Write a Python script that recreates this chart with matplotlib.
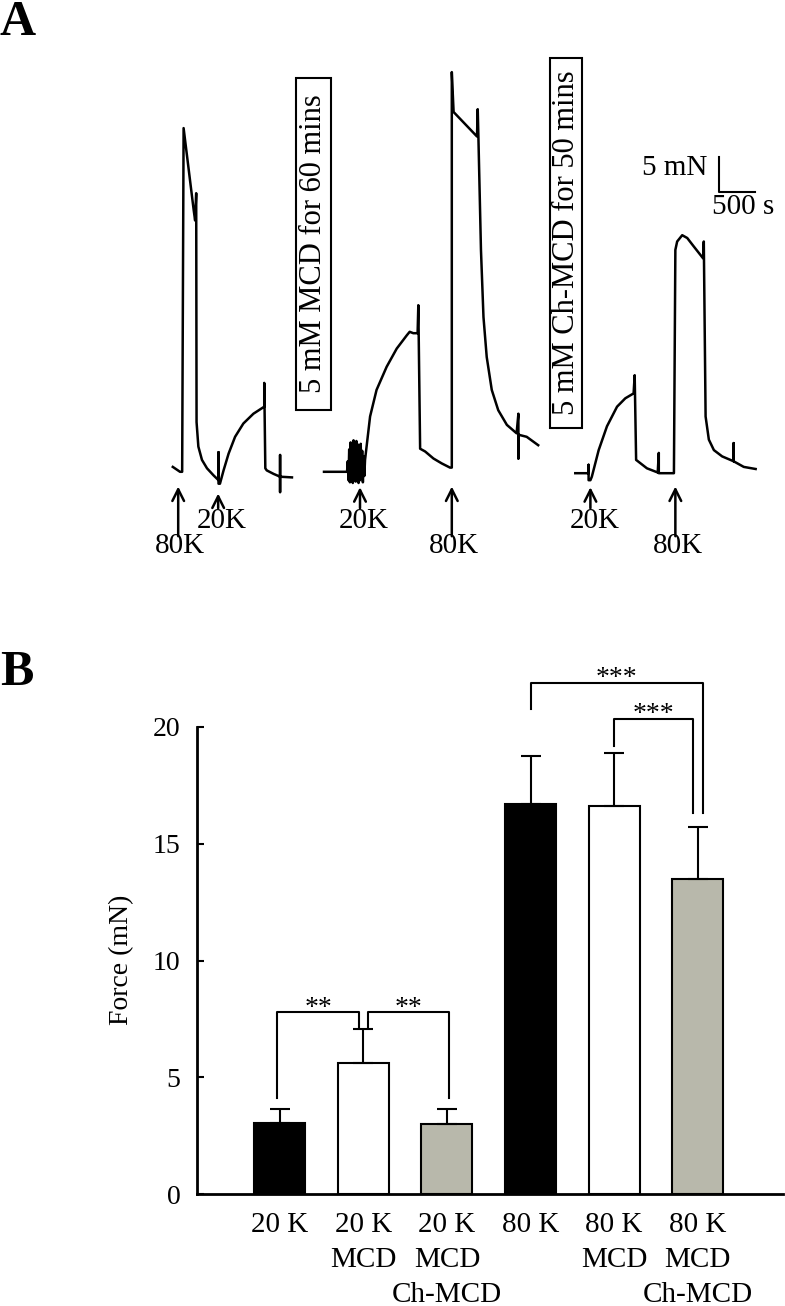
import matplotlib
matplotlib.use('Agg')
import matplotlib.pyplot as plt
from matplotlib.patches import Rectangle

plt.rcParams['font.family'] = ['Liberation Serif', 'DejaVu Serif']

# ---- panel A: force traces (time in s, force in mN above resting tone) ----
t1 = [0, 100, 130, 150, 290, 310, 325, 330, 355, 405, 475, 565, 635, 635, 635, 655,
      705, 775, 865, 980, 1120, 1270, 1270, 1285, 1305, 1400, 1490, 1490, 1490, 1490, 1655]
f1 = [0, -0.7, -0.7, 48.4, 36.7, 35.2, 39.1, 6.4, 2.9, 1.0, -0.2, -1.2, -1.9, 2.1, -2.4, -2.4,
      -0.5, 1.9, 4.3, 6.2, 7.6, 8.6, 12.0, -0.2, -0.5, -1.0, -1.4, 1.7, -3.6, -1.4, -1.5]

t2 = [0, 320, 330, 340, 350, 360, 370, 380, 390, 400, 410, 420, 430, 440, 450, 460, 470,
      480, 490, 500, 510, 520, 530, 540, 550, 560,
      570, 640, 730, 870, 1010, 1150, 1190, 1240, 1300, 1310, 1335, 1405, 1520, 1635, 1750,
      1775, 1775, 1800, 2125, 2135, 2145, 2180, 2215, 2260, 2330, 2420, 2540, 2675, 2700,
      2700, 2700, 2815, 2975]
f2 = [0, 0, 1.5, -1.2, 3.2, -1.5, 4.2, -0.8, 3.6, -1.6, 4.5, -1.0, 2.8, -1.4, 4.4, -1.3, 3.9,
      -1.6, 2.6, -1.2, 4.0, -0.9, 3.0, -1.5, 2.2, -0.6,
      1.7, 7.9, 11.7, 15.0, 17.6, 19.5, 20.0, 19.8, 19.8, 23.8, 3.3, 2.9, 1.9, 1.2, 0.6,
      0.6, 57.1, 51.4, 47.9, 51.8, 47.6, 31.7, 22.1, 16.4, 11.7, 8.8, 6.7, 5.5, 8.3,
      1.9, 5.3, 5.0, 3.8]

t3 = [0, 185, 185, 185, 210, 230, 325, 440, 580, 695, 810, 825, 845, 995, 1145, 1160, 1160,
      1370, 1390, 1415, 1485, 1555, 1645, 1775, 1785, 1810, 1855, 1925, 2040, 2200, 2200,
      2200, 2340, 2505]
f3 = [0, 0, 1.2, -1.0, -1.0, -0.5, 3.3, 6.7, 9.5, 10.7, 11.4, 14.0, 1.9, 0.7, 0.1, 2.9, 0,
      0, 31.9, 33.1, 34.0, 33.6, 32.4, 30.7, 33.1, 8.1, 4.8, 3.3, 2.4, 1.7, 4.3,
      1.7, 0.9, 0.6]

# stimulus arrows (time relative to each trace start)
stim_t = [[75, 630], [500, 1775], [210, 1390]]
stim_lbl = [['80K', '20K'], ['20K', '80K'], ['20K', '80K']]

box_txt = ['5 mM MCD for 60 mins', '5 mM Ch-MCD for 50 mins']

# ---- panel B: bar chart ----
groups = ['20 K', '20 K\nMCD', '20 K\nMCD\nCh-MCD', '80 K', '80 K\nMCD', '80 K\nMCD\nCh-MCD']
force = [3.05, 5.6, 3.0, 16.7, 16.6, 13.5]
sem = [0.6, 1.45, 0.65, 2.05, 2.3, 2.2]
fills = ['black', 'white', '#b8b8ab', 'black', 'white', '#b8b8ab']
stars = ['**', '**', '***', '***']

W, H = 785, 1306
fig = plt.figure(figsize=(W / 100, H / 100), dpi=100)


def fx(x):
    return x / W


def fy(y):
    return 1 - y / H


S_PER_PX = 500 / 36.0
MN_PER_PX = 5 / 35.0
TOP_H = 560

ax_a = fig.add_axes([0, fy(TOP_H), 1, TOP_H / H])
ax_a.set_xlim(0, W * S_PER_PX)
ax_a.set_ylim(0, TOP_H * MN_PER_PX)
ax_a.axis('off')

# where each trace sits in the panel (start time, resting level)
offsets = [(2400, 13.3), (4500, 12.6), (7990, 12.4)]
for (t, f), (t0, f0) in zip([(t1, f1), (t2, f2), (t3, f3)], offsets):
    ax_a.plot([t0 + v for v in t], [f0 + v for v in f], color='k', lw=1.8)

for (t0, f0), st, sl in zip(offsets, stim_t, stim_lbl):
    for tt, lab in zip(st, sl):
        x = t0 + tt
        if lab == '80K':
            tip, tail, ty, dx = 10.5, 3.4, 2.0, 30
        else:
            tip, tail, ty, dx = 10.4, 7.4, 5.6, 55
        if tt == 630:
            tip = 9.5
        ax_a.annotate('', xy=(x, tip), xytext=(x, tail),
                      arrowprops=dict(arrowstyle='->,head_length=0.6,head_width=0.3',
                                      color='k', lw=1.8, mutation_scale=14,
                                      shrinkA=0, shrinkB=0))
        ax_a.text(x + dx, ty, lab, fontsize=21, ha='center', va='center')

# scale bar
sb_t, sb_f = 9990, 52.6
ax_a.plot([sb_t, sb_t, sb_t + 500], [sb_f + 5, sb_f, sb_f], color='k', lw=1.5)
ax_a.text(sb_t - 170, sb_f + 3.4, '5 mN', fontsize=21, ha='right', va='center')
ax_a.text(sb_t + 330, sb_f - 2.2, '500 s', fontsize=21, ha='center', va='center')

# treatment boxes
for (x0, x1, y0, y1), txt in zip([(296, 331, 78, 410), (550, 582, 58, 428)], box_txt):
    fig.patches.append(Rectangle((fx(x0), fy(y1)), fx(x1) - fx(x0), fy(y0) - fy(y1),
                                 transform=fig.transFigure, fill=False, ec='k', lw=1.5))
    fig.text(fx((x0 + x1) / 2), fy((y0 + y1) / 2), txt, rotation=90, fontsize=22,
             ha='center', va='center')

fig.text(fx(0), fy(35), 'A', fontsize=36, fontweight='bold', ha='left', va='baseline')
fig.text(fx(0), fy(685), 'B', fontsize=36, fontweight='bold', ha='left', va='baseline')

# ---- panel B ----
ax_b = fig.add_axes([fx(197), fy(1194), fx(783) - fx(197), (1194 - 727) / H])
xs = list(range(len(groups)))
ax_b.bar(xs, force, width=0.61, color=fills, edgecolor='k', linewidth=1.5, zorder=2)
ax_b.errorbar(xs, force, yerr=[[0] * len(sem), sem], fmt='none', ecolor='k',
              elinewidth=1.5, capsize=7, capthick=1.5, zorder=3)
ax_b.set_xlim(-0.99, 6.02)
ax_b.set_ylim(0, 20)
ax_b.set_yticks([0, 5, 10, 15, 20])
ax_b.set_xticks(xs)
ax_b.set_xticklabels(groups, linespacing=1.45)
ax_b.tick_params(axis='y', direction='in', length=5, width=1.5, pad=12, labelsize=20)
ax_b.tick_params(axis='x', length=0, pad=13, labelsize=21)
for s in ['top', 'right']:
    ax_b.spines[s].set_visible(False)
for s in ['left', 'bottom']:
    ax_b.spines[s].set_linewidth(2)
fig.text(fx(122), fy(960), 'Force (mN)', rotation=90, fontsize=20, ha='center', va='center')

# significance brackets: (x left, x right, left leg end, right leg end, top)
brackets = [(-0.03, 0.95, 4.1, 7.15, 7.78),
            (1.06, 2.03, 7.15, 4.1, 7.78),
            (3.0, 5.06, 20.75, 16.3, 21.9),
            (4.0, 4.94, 19.2, 16.3, 20.35)]
for (xa, xb, ya, yb, top), s in zip(brackets, stars):
    ax_b.plot([xa, xa, xb, xb], [ya, top, top, yb], color='k', lw=1.5, clip_on=False)
    ax_b.text((xa + xb) / 2, top - 0.35, s, fontsize=20, ha='center', va='bottom')

fig.savefig('out.png', dpi=100)
